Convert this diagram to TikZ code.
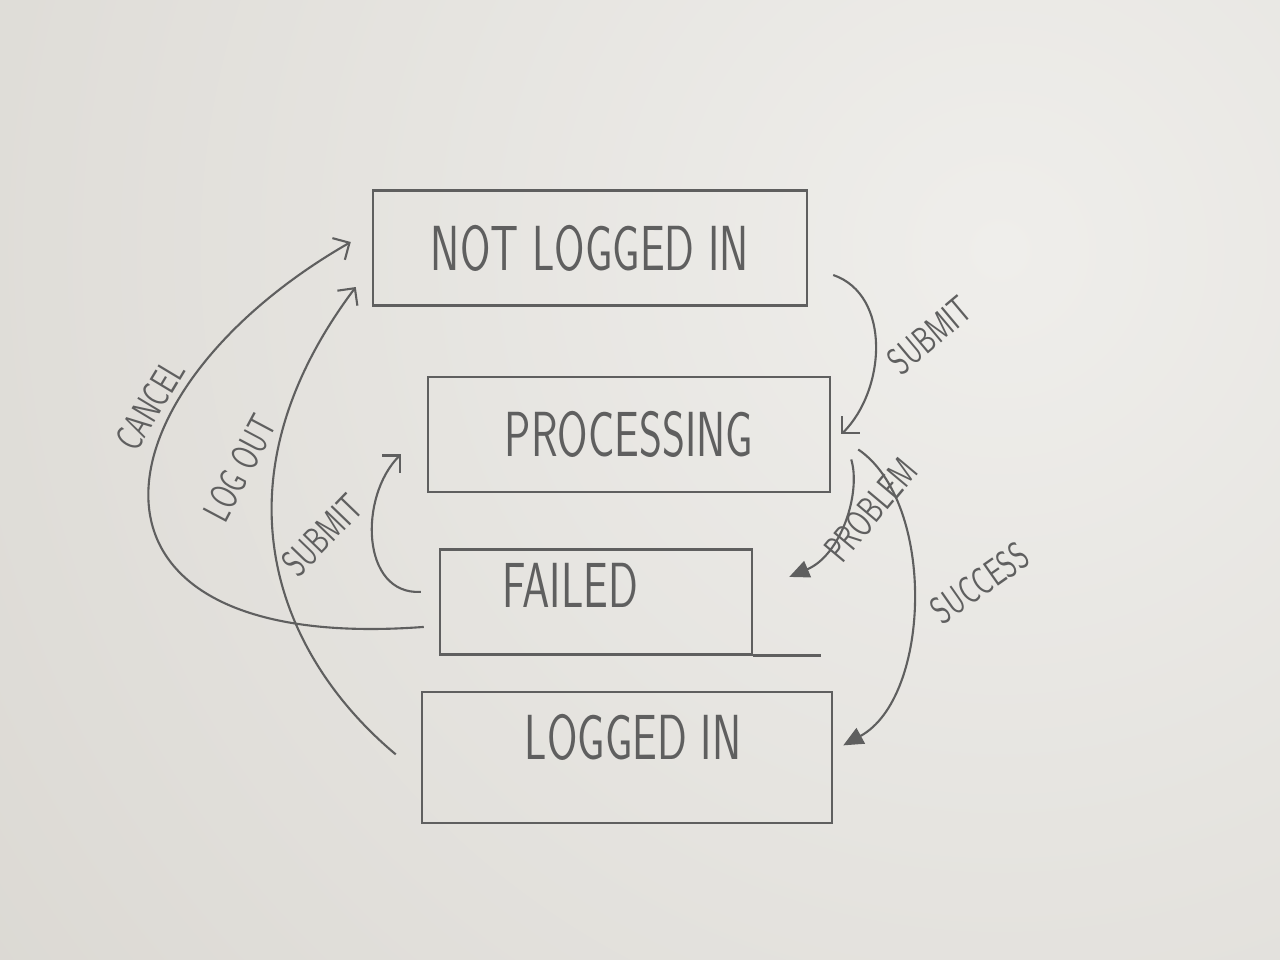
\documentclass[tikz,border=0pt]{standalone}
\usepackage{graphicx}
\usetikzlibrary{positioning,arrows.meta}
\definecolor{pencil}{RGB}{95,95,95}
\definecolor{paperlight}{RGB}{239,238,235}
\definecolor{paperdark}{RGB}{214,211,205}
\newcommand{\tallcaps}[1]{\scalebox{1}[1.45]{#1}}
\begin{document}
\begin{tikzpicture}[statebox/.style={rectangle, draw=pencil, line width=1.4pt, minimum height=2.3cm, text=pencil, font=\sffamily\fontsize{25}{25}\selectfont},
  statetext/.style={text=pencil, font=\sffamily\fontsize{25}{25}\selectfont},
  lbl/.style={text=pencil, font=\sffamily\fontsize{15}{15}\selectfont},
  openarrow/.style={draw=pencil, line width=1.2pt, -{Straight Barb[length=2.5mm,width=5mm]}},
  fullarrow/.style={draw=pencil, line width=1.2pt, -{Triangle[length=4mm,width=3.5mm]}}]
    % paper
    \useasboundingbox (0,0) rectangle (25.6,-19.2);
    \begin{scope}
        \clip (0,0) rectangle (25.6,-19.2);
        \shade[inner color=paperlight, outer color=paperdark] (-12,-37) rectangle (52,27);
    \end{scope}

    % states
    \node[statebox, minimum width=8.68cm] (nli) at (11.8,-4.96) {\tallcaps{NOT LOGGED IN}};
    \node[statebox, minimum width=8.04cm] (proc) [below=1.38cm of nli, xshift=0.78cm] {\tallcaps{PROCESSING}};
    \node[statebox, minimum width=6.24cm, minimum height=2.1cm] (failed) [below=1.1cm of proc, xshift=-0.66cm] {};
    \node[statebox, minimum width=8.2cm, minimum height=2.62cm] (logged) [below=0.7cm of failed, xshift=0.62cm] {};
    \node[statetext] (failedtxt) at ([shift={(-0.52,0.34)}]failed.center) {\tallcaps{FAILED}};
    \node[statetext] (loggedtxt) at ([shift={(0.12,0.4)}]logged.center) {\tallcaps{LOGGED IN}};
    \draw[pencil, line width=1.4pt] (failed.south east) -- ++(1.36,0);

    % transitions
    \draw[openarrow] ([shift={(0.5,-0.54)}]nli.east) .. controls +(1.16,-0.4) and +(0.9,0.9) .. ([xshift=0.2cm]proc.east);
    \draw[fullarrow] ([shift={(0.4,-0.5)}]proc.east) .. controls +(0.2,-0.66) and +(1.04,0.44) .. ([shift={(0.72,0.5)}]failed.east);
    \draw[fullarrow] ([shift={(0.54,-0.3)}]proc.east) .. controls +(1.56,-1.06) and +(1.76,0.96) .. ([shift={(0.2,0.24)}]logged.east);
    \draw[openarrow] ([shift={(-0.36,0.2)}]failed.west) .. controls +(-1.2,-0.06) and +(-0.84,-0.84) .. ([shift={(-0.52,-0.4)}]proc.west);
    \draw[openarrow] ([shift={(-0.3,-0.5)}]failed.west) .. controls +(-7.5,-0.56) and +(-5.22,-3.0) .. ([shift={(-0.42,0.12)}]nli.west);
    \draw[openarrow] ([shift={(-0.5,0.06)}]logged.west) .. controls +(-2.3,1.92) and +(-3.0,-4.0) .. ([shift={(-0.32,-0.78)}]nli.west);

    % labels
    \node[lbl, rotate=40] (lsubmit) at (18.6,-6.7) {\tallcaps{SUBMIT}};
    \node[lbl, rotate=50] (lproblem) at (17.42,-10.2) {\tallcaps{PROBLEM}};
    \node[lbl, rotate=35] (lsuccess) at (19.6,-11.66) {\tallcaps{SUCCESS}};
    \node[lbl, rotate=59] (lcancel) at (3.0,-8.1) {\tallcaps{CANCEL}};
    \node[lbl, rotate=62] (llogout) at (4.8,-9.36) {\tallcaps{LOG OUT}};
    \node[lbl, rotate=46] (lresubmit) at (6.45,-10.7) {\tallcaps{SUBMIT}};
\end{tikzpicture}
\end{document}
